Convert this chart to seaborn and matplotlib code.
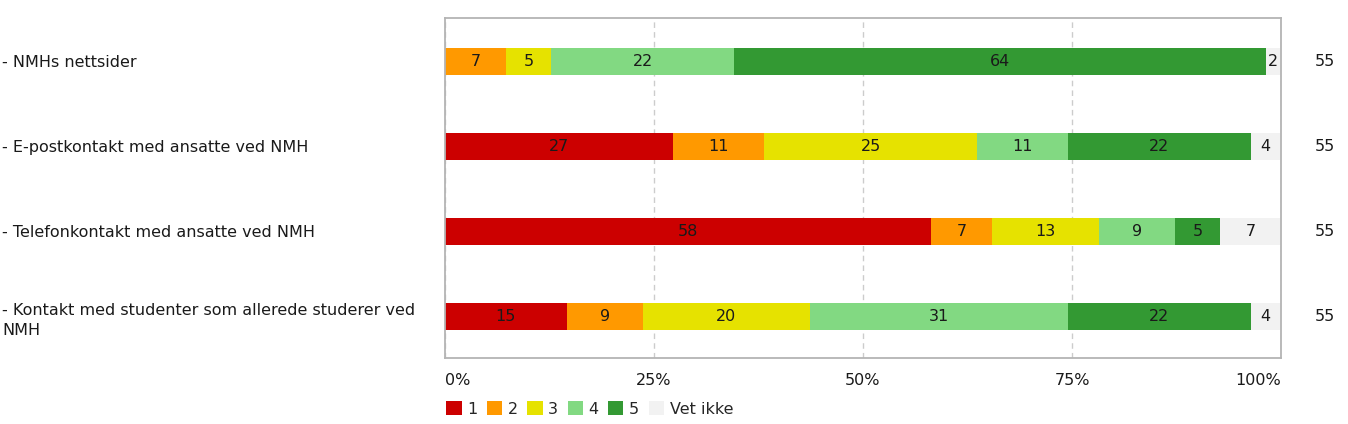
import numpy as np
import pandas as pd
import matplotlib
matplotlib.use("Agg")
from matplotlib import pyplot as plt
from matplotlib.patches import Patch
from matplotlib.transforms import blended_transform_factory
import seaborn as sns

sns.set_style("white")
plt.rcParams['font.family'] = ['DejaVu Sans']

# answers per category (n = 55 per question)
questions = ["- NMHs nettsider",
             "- E-postkontakt med ansatte ved NMH",
             "- Telefonkontakt med ansatte ved NMH",
             "- Kontakt med studenter som allerede studerer ved\nNMH"]
options = ["1", "2", "3", "4", "5", "Vet ikke"]
ans_1 = [0, 15, 32, 8]
ans_2 = [4, 6, 4, 5]
ans_3 = [3, 14, 7, 11]
ans_4 = [12, 6, 5, 17]
ans_5 = [35, 12, 3, 12]
ans_vet = [1, 2, 4, 2]
n_resp = [55, 55, 55, 55]

colors = ["#cc0000", "#ff9900", "#e6e200", "#82d982", "#339933", "#f2f2f2"]
fs = 11.5
txt = "#1a1a1a"

counts = pd.DataFrame({"1": ans_1, "2": ans_2, "3": ans_3, "4": ans_4,
                       "5": ans_5, "Vet ikke": ans_vet}, index=questions)
pct = counts.div(counts.sum(axis=1), axis=0) * 100
cum = pct.cumsum(axis=1)

fig = plt.figure(figsize=(13.48, 4.24), dpi=100)
ax = fig.add_axes([445/1348, 1-358/424, 836/1348, 340/424])
ax.set_axisbelow(True)

# draw from the full stack down so shorter bars sit on top
for opt, col in reversed(list(zip(options, colors))):
    df = pd.DataFrame({"q": questions, "v": cum[opt].values})
    sns.barplot(data=df, x="v", y="q", orient="h", color=col, width=0.31,
                saturation=1, ax=ax, linewidth=0, zorder=2)

# value labels in the middle of each segment
for i, q in enumerate(questions):
    left = 0
    for opt in options:
        w = pct.loc[q, opt]
        if w > 0:
            ax.text(left + w/2, i, f"{round(w):d}", ha="center", va="center",
                    fontsize=fs, color=txt, zorder=3)
        left += w

trans = blended_transform_factory(ax.transAxes, ax.transData)
for i, n in enumerate(n_resp):
    ax.text(1.053, i, str(n), transform=trans, ha="center", va="center",
            fontsize=fs, color=txt)

ax.set_xlim(0, 100)
ax.set_ylim(3.49, -0.51)
ax.set_xlabel("")
ax.set_ylabel("")
ax.set_xticks([0, 25, 50, 75, 100])
ax.set_xticklabels(["0%", "25%", "50%", "75%", "100%"], fontsize=fs, color=txt)
xt = ax.get_xticklabels()
xt[0].set_horizontalalignment("left")
xt[-1].set_horizontalalignment("right")
ax.tick_params(axis="x", length=0, pad=11)
ax.tick_params(axis="y", length=0, pad=445*0.72 - 1.5)
ax.set_yticks(range(len(questions)))
ax.set_yticklabels(questions, fontsize=fs, color=txt)
for t in ax.get_yticklabels():
    t.set_horizontalalignment("left")
    t.set_linespacing(1.4)

ax.grid(axis="x", linestyle=(0, (4, 3)), color="#cccccc", linewidth=1)
ax.grid(axis="y", visible=False)
for s in ax.spines.values():
    s.set_color("#b4b4b4")
    s.set_linewidth(1.3)

handles = [Patch(facecolor=c, edgecolor="none", label=o) for o, c in zip(options, colors)]
fig.legend(handles=handles, loc="center left", bbox_to_anchor=(440/1348, 1-409/424),
           ncol=6, frameon=False, fontsize=fs, handlelength=0.95, handleheight=0.95,
           handletextpad=0.35, columnspacing=0.6, borderaxespad=0)

fig.savefig("out.png", dpi=100)
